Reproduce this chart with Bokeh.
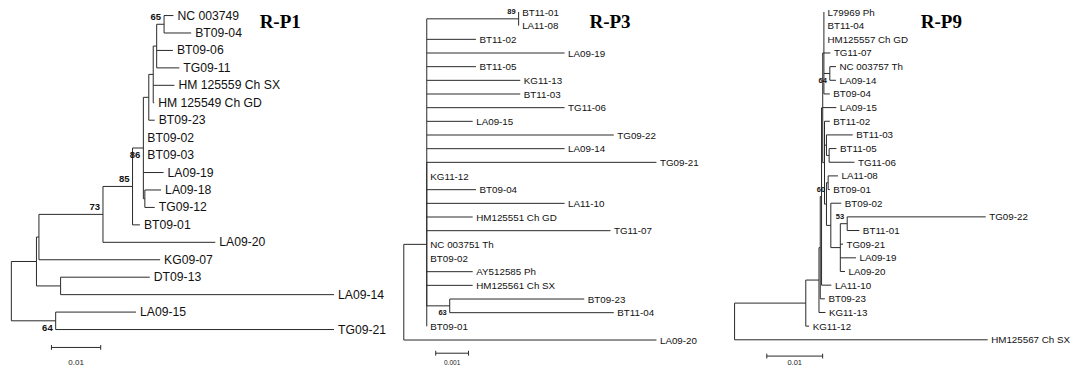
from bokeh.plotting import figure
from bokeh.layouts import row
from bokeh.models import Range1d
from bokeh.embed import file_html
from bokeh.resources import INLINE
from bokeh.core.properties import value

# ---------------- DATA ----------------
# Tree R-P1 (node, parent, branch length in substitutions/site); internal nodes start with "#"
p1_nodes = ["#root", "#A", "#B", "#73", "#85", "#86", "#D", "#E", "#F", "#65",
            "NC 003749", "BT09-04", "BT09-06", "TG09-11", "HM 125559 Ch SX", "HM 125549 Ch GD",
            "BT09-23", "BT09-02", "BT09-03", "LA09-19", "#G", "LA09-18", "TG09-12", "BT09-01",
            "LA09-20", "KG09-07", "#H", "DT09-13", "LA09-14", "#64", "LA09-15", "TG09-21"]
p1_parents = [None, "#root", "#A", "#B", "#73", "#85", "#86", "#D", "#E", "#F",
              "#65", "#65", "#F", "#F", "#E", "#E",
              "#D", "#86", "#86", "#86", "#86", "#G", "#G", "#85",
              "#73", "#B", "#A", "#H", "#H", "#root", "#64", "#64"]
p1_lengths = [0.0, 0.0051, 0.0005, 0.0130, 0.0060, 0.0022, 0.0011, 0.0009, 0.0007, 0.0015,
              0.0019, 0.0055, 0.0033, 0.0046, 0.0043, 0.0002,
              0.0012, 0.0, 0.0, 0.0041, 0.0003, 0.0033, 0.0020, 0.0015,
              0.0228, 0.0246, 0.0049, 0.0181, 0.0555, 0.0090, 0.0163, 0.0565]
p1_boot_nodes = ["#65", "#86", "#85", "#73", "#64"]
p1_boot_values = ["65", "86", "85", "73", "64"]
p1_boot_side = [-1, 1, -1, -1, 1]

# Tree R-P3
p3_nodes = ["#root", "#M", "#N", "#89", "BT11-01", "LA11-08", "BT11-02", "LA09-19", "BT11-05",
            "KG11-13", "BT11-03", "TG11-06", "LA09-15", "TG09-22", "LA09-14", "TG09-21", "KG11-12",
            "BT09-04", "LA11-10", "HM125551 Ch GD", "TG11-07", "NC 003751 Th", "BT09-02",
            "AY512585 Ph", "HM125561 Ch SX", "#63", "BT09-23", "BT11-04", "BT09-01", "LA09-20"]
p3_parents = [None, "#root", "#M", "#N", "#89", "#89", "#N", "#N", "#N",
              "#N", "#N", "#N", "#N", "#N", "#N", "#N", "#N",
              "#N", "#N", "#N", "#N", "#N", "#N",
              "#N", "#N", "#N", "#63", "#63", "#M", "#root"]
p3_lengths = [0.0, 0.0007, 0.0, 0.0028, 0.0, 0.0, 0.0015, 0.0042, 0.0015,
              0.00285, 0.00285, 0.0042, 0.0014, 0.0057, 0.0042, 0.0070, 0.0,
              0.0015, 0.0042, 0.0014, 0.0056, 0.0, 0.0,
              0.0014, 0.0014, 0.0007, 0.0041, 0.0050, 0.0, 0.0077]
p3_boot_nodes = ["#89", "#63"]
p3_boot_values = ["89", "63"]
p3_boot_side = [-1, 1]

# Tree R-P9
p9_nodes = ["#root", "#R1", "#R2", "#R3", "#R4", "#R5", "#A",
            "L79969 Ph", "BT11-04", "HM125557 Ch GD", "TG11-07", "#64", "NC 003757 Th", "LA09-14",
            "BT09-04", "LA09-15", "#Q", "BT11-02", "#NB", "BT11-03", "#NC2", "BT11-05", "TG11-06",
            "#N60", "#60", "LA11-08", "BT09-01", "#G2", "BT09-02", "#G3", "#53", "TG09-22", "BT11-01",
            "TG09-21", "LA09-19", "LA09-20", "LA11-10", "BT09-23", "KG11-13", "KG11-12",
            "HM125567 Ch SX"]
p9_parents = [None, "#root", "#R1", "#R2", "#R3", "#R4", "#R5",
              "#A", "#A", "#A", "#A", "#A", "#64", "#64",
              "#A", "#R5", "#R5", "#Q", "#Q", "#NB", "#NB", "#NC2", "#NC2",
              "#Q", "#N60", "#60", "#60", "#N60", "#G2", "#G2", "#G3", "#53", "#53",
              "#G3", "#G3", "#G3", "#R4", "#R3", "#R2", "#R1",
              "#root"]
p9_lengths = [0.0, 0.01275, 0.00236, 0.00023, 0.00023, 0.00021, 0.00021,
              0.0, 0.0, 0.0, 0.00116, 0.00106, 0.0011, 0.0011,
              0.00106, 0.00243, 0.00032, 0.00095, 0.00035, 0.0047, 0.00048, 0.0013, 0.00453,
              0.00035, 0.0003, 0.00176, 0.0003, 0.00078, 0.00187, 0.0017, 0.00123, 0.0248, 0.00218,
              0.00048, 0.0028, 0.00083, 0.00176, 0.00083, 0.00116, 0.0006,
              0.0453]
p9_boot_nodes = ["#64", "#60", "#53"]
p9_boot_values = ["64", "60", "53"]
p9_boot_side = [1, 1, -1]

titles = ["R-P1", "R-P3", "R-P9"]
scale_lengths = [0.01, 0.001, 0.01]
scale_labels = ["0.01", "0.001", "0.01"]

# ---------------- LAYOUT / STYLE ----------------
W_TOTAL, H_TOTAL = 1074, 369
REF_W, REF_H = 1090.0, 385.0
SX, SY = W_TOTAL / REF_W, H_TOTAL / REF_H

panel_cfg = [
    dict(L=0.0, w=389, x0=11.0, ppu=5000.0, y0=15.7, dy=18.2, font="12.2px", gap=4, bfont="9.5px",
         title_xy=(263, 22), bar_xy=(51.7, 362), bar_label_y=378, bar_font="8px"),
    dict(L=389 / SX, w=326, x0=409.3, ppu=33300.0, y0=12.0, dy=14.26, font="9.8px", gap=3.5, bfont="7.5px",
         title_xy=(597.7, 22), bar_xy=(441.7, 368), bar_label_y=378, bar_font="6.5px"),
    dict(L=715 / SX, w=359, x0=745.0, ppu=5670.0, y0=12.0, dy=14.25, font="9.8px", gap=3.5, bfont="7.5px",
         title_xy=(934, 22), bar_xy=(777.7, 371), bar_label_y=378, bar_font="7.5px"),
]

LINE = "#2a2a2a"


def layout_tree(nodes, parents, lengths):
    children = {n: [] for n in nodes}
    for n, p in zip(nodes, parents):
        if p is not None:
            children[p].append(n)
    blen = dict(zip(nodes, lengths))
    x, y = {}, {}
    counter = [0]

    def rec(n, px):
        x[n] = px + blen[n]
        if children[n]:
            for c in children[n]:
                rec(c, x[n])
            y[n] = (y[children[n][0]] + y[children[n][-1]]) / 2.0
        else:
            y[n] = counter[0]
            counter[0] += 1

    root = nodes[parents.index(None)]
    rec(root, 0.0)
    return x, y, children, dict(zip(nodes, parents))


def make_panel(k, nodes, parents, lengths, bnodes, bvals, bside):
    c = panel_cfg[k]
    x, y, children, parent = layout_tree(nodes, parents, lengths)
    ref_w = c["w"] / SX
    xs = (c["L"] - c["x0"]) / c["ppu"]
    xe = (c["L"] + ref_w - c["x0"]) / c["ppu"]
    yt = (0 - c["y0"]) / c["dy"]
    yb = (REF_H - c["y0"]) / c["dy"]
    p = figure(width=c["w"], height=H_TOTAL, output_backend="svg", toolbar_location=None,
               x_range=Range1d(xs, xe), y_range=Range1d(yb, yt),
               x_axis_location=None, y_axis_location=None, min_border=0)
    p.min_border_left = p.min_border_right = p.min_border_top = p.min_border_bottom = 0
    p.outline_line_color = None
    p.xgrid.visible = False
    p.ygrid.visible = False
    p.background_fill_color = "white"

    # horizontal branches
    hx0, hx1, hy = [], [], []
    for n in nodes:
        pn = parent[n]
        if pn is not None and x[n] > x[pn]:
            hx0.append(x[pn]); hx1.append(x[n]); hy.append(y[n])
    p.segment(x0=hx0, y0=hy, x1=hx1, y1=hy, line_color=LINE, line_width=1)
    # vertical connectors
    vx, vy0, vy1 = [], [], []
    for n in nodes:
        ch = children[n]
        if ch:
            vx.append(x[n]); vy0.append(y[ch[0]]); vy1.append(y[ch[-1]])
    p.segment(x0=vx, y0=vy0, x1=vx, y1=vy1, line_color=LINE, line_width=1)

    # leaf labels
    leaves = [n for n in nodes if not children[n]]
    p.text(x=[x[n] for n in leaves], y=[y[n] for n in leaves], text=leaves,
           x_offset=c["gap"], text_baseline="middle", text_align="left",
           text_font=value("Liberation Sans"), text_font_size=c["font"], text_color="#111111")

    # bootstrap values
    p.text(x=[x[n] for n in bnodes], y=[y[n] for n in bnodes], text=bvals,
           x_offset=-3, y_offset=[s * 7 for s in bside], text_baseline="middle", text_align="right",
           text_font=value("Liberation Sans"), text_font_style="bold", text_font_size=c["bfont"],
           text_color="#111111")

    # title
    tx = (c["title_xy"][0] - c["x0"]) / c["ppu"]
    ty = (c["title_xy"][1] - c["y0"]) / c["dy"]
    p.text(x=[tx], y=[ty], text=[titles[k]], text_baseline="alphabetic", text_align="left",
           text_font=value("Liberation Serif"), text_font_style="bold", text_font_size="19px",
           text_color="black")

    # scale bar
    bx = (c["bar_xy"][0] - c["x0"]) / c["ppu"]
    by = (c["bar_xy"][1] - c["y0"]) / c["dy"]
    bl = scale_lengths[k]
    tick = 2.5 / c["dy"]
    p.segment(x0=[bx, bx, bx + bl], y0=[by, by - tick, by - tick],
              x1=[bx + bl, bx, bx + bl], y1=[by, by + tick, by + tick],
              line_color=LINE, line_width=1)
    ly = (c["bar_label_y"] - c["y0"]) / c["dy"]
    p.text(x=[bx + bl / 2], y=[ly], text=[scale_labels[k]], text_baseline="middle", text_align="center",
           text_font=value("Liberation Sans"), text_font_size=c["bar_font"], text_color="#222222")
    return p


f1 = make_panel(0, p1_nodes, p1_parents, p1_lengths, p1_boot_nodes, p1_boot_values, p1_boot_side)
f3 = make_panel(1, p3_nodes, p3_parents, p3_lengths, p3_boot_nodes, p3_boot_values, p3_boot_side)
f9 = make_panel(2, p9_nodes, p9_parents, p9_lengths, p9_boot_nodes, p9_boot_values, p9_boot_side)

layout = row(f1, f3, f9, spacing=0)
open("out.html", "w").write(file_html(layout, INLINE))
